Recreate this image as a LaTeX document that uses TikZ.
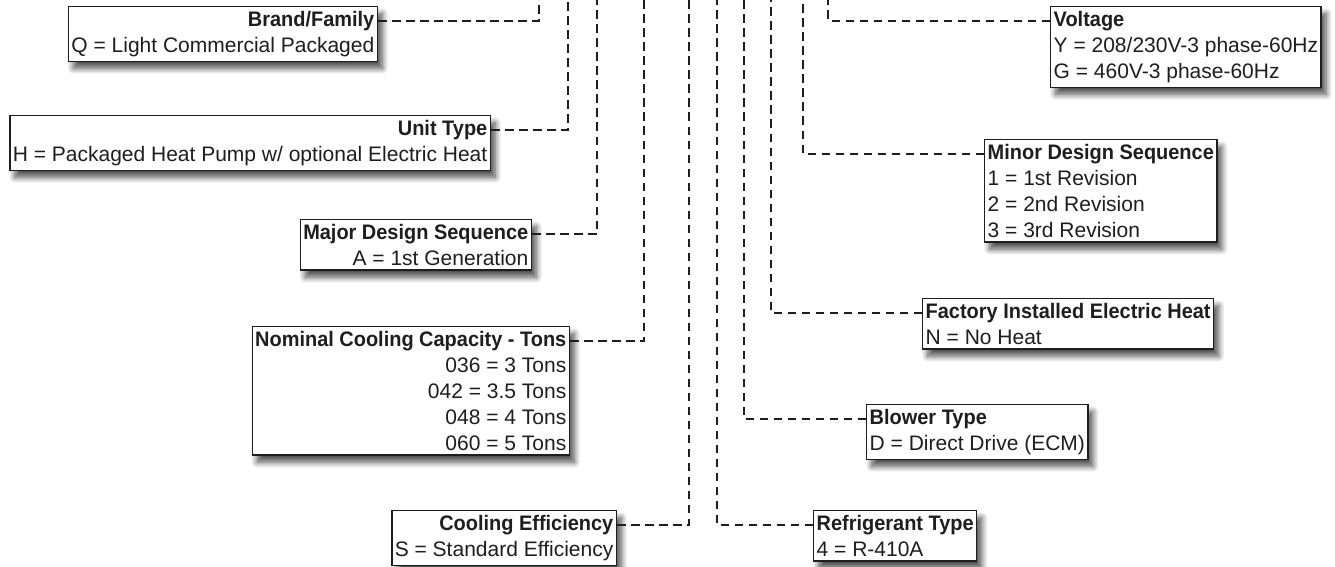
\documentclass[tikz,border=0pt]{standalone}
\usepackage{fontspec}
\setmainfont{Liberation Sans}
\newfontfamily\hdfont[FakeStretch=0.95]{Liberation Sans Bold}
\usetikzlibrary{shadows.blur}
\definecolor{ink}{HTML}{1E1E1E}

\begin{document}
\begin{tikzpicture}[x=1pt, y=-1pt,
    box/.style={draw=ink, line width=1.4pt, fill=white, inner xsep=3pt, inner ysep=4.5pt,
                font=\fontsize{21}{26}\selectfont, text=ink,
                blur shadow={shadow xshift=5pt, shadow yshift=-7pt, shadow blur radius=6pt,
                             shadow blur steps=8, shadow opacity=70}},
    lbox/.style={box, align=right, anchor=north east},
    rbox/.style={box, align=left, anchor=north west},
    lead/.style={draw=ink, line width=2.9pt, dash pattern=on 8.5pt off 5.5pt}]
  \useasboundingbox (0,0) rectangle (1335,567);

  % left side
  \node[lbox] (brand) at (378,6) {{\hdfont Brand/Family}\\Q = Light Commercial Packaged};
  \node[lbox] (unit) at (491,115) {{\hdfont Unit Type}\\H = Packaged Heat Pump w/ optional Electric Heat};
  \node[lbox] (major) at (532,219) {{\hdfont Major Design Sequence}\\A = 1st Generation};
  \node[lbox] (nominal) at (570,326) {{\hdfont Nominal Cooling Capacity - Tons}\\036 = 3 Tons\\042 = 3.5 Tons\\048 = 4 Tons\\060 = 5 Tons};
  \node[lbox] (effic) at (617,510) {{\hdfont Cooling Efficiency}\\S = Standard Efficiency};

  % right side
  \node[rbox] (refrig) at (813,510) {{\hdfont Refrigerant Type}\\4 = R-410A};
  \node[rbox] (blower) at (866,404) {{\hdfont Blower Type}\\D = Direct Drive (ECM)};
  \node[rbox] (heat) at (922,298) {{\hdfont Factory Installed Electric Heat}\\N = No Heat};
  \node[rbox] (minor) at (984,139) {{\hdfont Minor Design Sequence}\\1 = 1st Revision\\2 = 2nd Revision\\3 = 3rd Revision};
  \node[rbox] (volt) at (1050,6) {{\hdfont Voltage}\\Y = 208/230V-3 phase-60Hz\\G = 460V-3 phase-60Hz};

  % leads up to the model number
  \foreach \n/\x in {brand/539, unit/568, major/597, nominal/644, effic/689}
    \draw[lead] ([yshift=-15pt]\n.north east) -| (\x,0);
  \foreach \n/\x in {refrig/717, blower/744, heat/771, minor/803, volt/828}
    \draw[lead] ([yshift=-15pt]\n.north west) -| (\x,0);
\end{tikzpicture}
\end{document}
